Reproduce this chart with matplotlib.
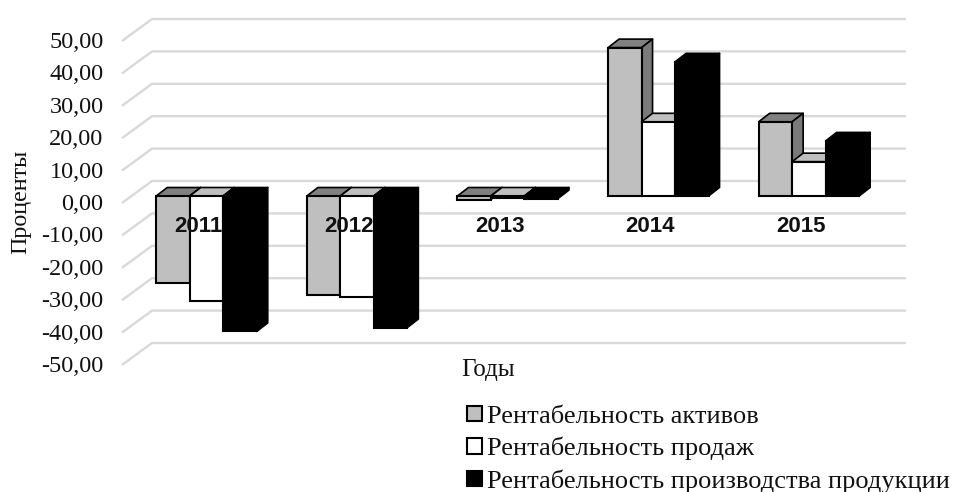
import matplotlib
matplotlib.use("Agg")
import numpy as np
import matplotlib.pyplot as plt
from matplotlib.patches import Patch, Polygon

years = ["2011", "2012", "2013", "2014", "2015"]
assets = [-27.0, -30.5, -1.1, 45.8, 22.9]
sales = [-32.5, -31.2, -0.6, 22.9, 10.6]
production = [-41.8, -40.6, -0.8, 41.4, 17.0]
ticks = [50, 40, 30, 20, 10, 0, -10, -20, -30, -40, -50]
names = ["Рентабельность активов", "Рентабельность продаж", "Рентабельность производства продукции"]

plt.rcParams["font.family"] = "Liberation Serif"

#pixels per unit on each axis, the chart is laid out on the full figure
W, H = 955, 492
px_x = 150.6
px_y = 3.24
x0 = 206.5
y0 = 196


def dx(p):
	return p / px_x


def dy(p):
	return p / px_y


fig = plt.figure(figsize=(W / 100, H / 100), dpi=100)
ax = fig.add_axes([0, 0, 1, 1])
ax.set_xlim(-x0 / px_x, (W - x0) / px_x)
ax.set_ylim(-(H - y0) / px_y, y0 / px_y)
ax.axis("off")

#floor lines of the fake 3d box
for v in ticks:
	xs = [dx(122 - x0), dx(152 - x0), dx(906 - x0)]
	ys = [v - dy(7), v + dy(15), v + dy(15)]
	ax.plot(xs, ys, color="#d9d9d9", lw=1.7, zorder=1, solid_capstyle="butt")
	ax.text(dx(103.5 - x0), v - dy(8.5), f"{v},00", ha="right", va="center", fontsize=17.5, color="#111111", zorder=30)

width = dx(33.5)
depth_x = dx(11)
depth_y = dy(8.5)
series = [
	(assets, "#bfbfbf", "#808080", "#7a7a7a"),
	(sales, "#ffffff", "#bfbfbf", "#bfbfbf"),
	(production, "#000000", "#000000", "#000000"),
]

z = 2
for i in range(len(years)):
	for s, (vals, front, top, side) in enumerate(series):
		v = vals[i]
		left = i + (s - 1.5) * width
		hi = max(v, 0)
		lo = min(v, 0)
		ax.add_patch(Polygon([(left, hi), (left + depth_x, hi + depth_y), (left + width + depth_x, hi + depth_y), (left + width, hi)],
			facecolor=top, edgecolor="black", lw=1.2, joinstyle="round", zorder=z))
		ax.add_patch(Polygon([(left + width, hi), (left + width + depth_x, hi + depth_y), (left + width + depth_x, lo + depth_y), (left + width, lo)],
			facecolor=side, edgecolor="black", lw=1.2, joinstyle="round", zorder=z))
		ax.bar(left, v, width=width, align="edge", color=front, edgecolor="black", lw=1.5, zorder=z + 1)
		z += 2

for i, year in enumerate(years):
	ax.text(i - dx(8), -dy(31), year, ha="center", va="center", fontsize=16, fontweight="bold",
		family="Liberation Sans", color="#111111", zorder=40)

ax.text(dx(21 - x0), -dy(6), "Проценты", rotation=90, ha="center", va="center", fontsize=17.3, color="#111111")
ax.text(dx(488 - x0), -dy(174), "Годы", ha="center", va="center", fontsize=18, color="#111111")

handles = [Patch(facecolor=c[1], edgecolor="black", lw=1.5) for c in series]
ax.legend(handles, names, loc="upper left", bbox_to_anchor=(467 / W, 1 - 406 / H), frameon=False,
	fontsize=19, borderpad=0, borderaxespad=0, labelspacing=0.335, handlelength=0.55, handleheight=0.52,
	handletextpad=0.2, labelcolor="#111111")

fig.savefig("out.png", dpi=100)
